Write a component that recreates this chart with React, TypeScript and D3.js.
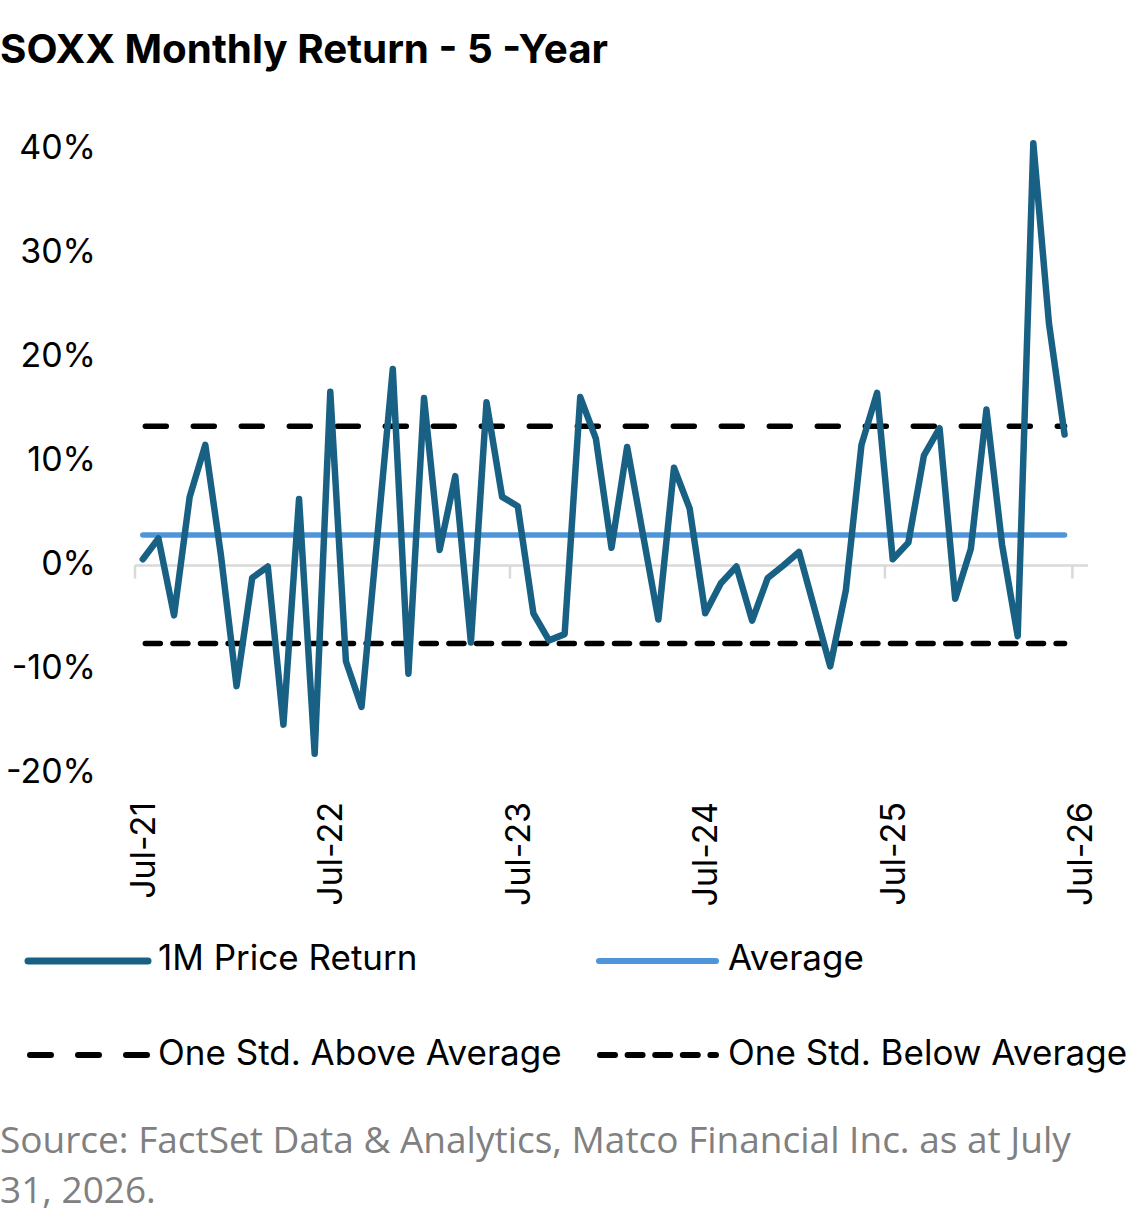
import * as d3 from 'd3'

// monthly returns in % (first point = Jul-21)
const RETURNS = [
  0.6, 2.6, -4.8, 6.6, 11.6, 1.0, -11.6, -1.2, -0.1, -15.3, 6.4, -18.1,
  16.7, -9.2, -13.6, 2.6, 18.9, -10.4, 16.1, 1.5, 8.6, -7.4, 15.7, 6.6,
  5.7, -4.6, -7.2, -6.6, 16.2, 12.2, 1.7, 11.4, 3.1, -5.2, 9.4, 5.5,
  -4.6, -1.7, -0.1, -5.3, -1.2, 0.0, 1.3, -4.2, -9.7, -2.4, 11.6, 16.6,
  0.6, 2.2, 10.6, 13.2, -3.2, 1.6, 15.0, 2.0, -6.8, 40.6, 23.3, 12.6,
]
const AVERAGE = 2.93
const ONE_STD_ABOVE = 13.4
const ONE_STD_BELOW = -7.5

const Y_TICKS = [-20, -10, 0, 10, 20, 30, 40]
const X_LABELS = ['Jul-21', 'Jul-22', 'Jul-23', 'Jul-24', 'Jul-25', 'Jul-26']
const X_TICK_INDEX = [0, 12, 24, 36, 48, 60]

const WIDTH = 1141
const HEIGHT = 1217
const FONT = 'Inter, "Noto Sans", sans-serif'

const COLOR_RETURN = '#186184'
const COLOR_AVG = '#4e95d9'
const LONG_DASH = '21 27'
const SHORT_DASH = '15 12.6'

export default function App() {
  const x = d3.scaleLinear().domain([-0.5, 60.5]).range([135, 1088])
  const y = d3.scaleLinear().domain([-20, 40]).range([773.5, 149.5])

  const line = d3.line<number>()
    .x((_, i) => x(i))
    .y(d => y(d))

  const x0 = x(0)
  const x1 = x(RETURNS.length - 1)

  return (
    <svg
      width={WIDTH}
      height={HEIGHT}
      style={{ position: 'absolute', left: 0, top: 0, background: '#fff' }}
      fontFamily={FONT}
    >
      <text x={0} y={63} fontSize={40} fontWeight={700} fill="#000" textLength={608} lengthAdjust="spacingAndGlyphs">
        SOXX Monthly Return - 5 -Year
      </text>

      {/* y axis labels */}
      {Y_TICKS.map(t => (
        <text
          key={t}
          x={96}
          y={y(t) - 2}
          dy="0.35em"
          textAnchor="end"
          fontSize={34}
          fill="#000"
        >
          {t}%
        </text>
      ))}

      {/* category axis */}
      <line x1={x(-0.5)} x2={x(60.5)} y1={y(0)} y2={y(0)} stroke="#d9d9d9" strokeWidth={2.5} />
      {X_TICK_INDEX.map(i => (
        <line
          key={i}
          x1={x(i - 0.5)}
          x2={x(i - 0.5)}
          y1={y(0)}
          y2={y(0) + 13}
          stroke="#d9d9d9"
          strokeWidth={2.5}
        />
      ))}
      {X_LABELS.map((lab, k) => (
        <text
          key={lab}
          transform={`translate(${x(X_TICK_INDEX[k] - 0.5) + 20},802) rotate(-90)`}
          textAnchor="end"
          fontSize={34}
          fill="#000"
        >
          {lab}
        </text>
      ))}

      {/* reference lines */}
      <line x1={x0} x2={x1} y1={y(AVERAGE)} y2={y(AVERAGE)} stroke={COLOR_AVG} strokeWidth={5.5} strokeLinecap="round" />
      <line
        x1={x0 + 2.5} x2={x1} y1={y(ONE_STD_ABOVE)} y2={y(ONE_STD_ABOVE)}
        stroke="#000" strokeWidth={5.5} strokeLinecap="round" strokeDasharray={LONG_DASH}
      />
      <line
        x1={x0 + 2.5} x2={x1} y1={y(ONE_STD_BELOW)} y2={y(ONE_STD_BELOW)}
        stroke="#000" strokeWidth={5.5} strokeLinecap="round" strokeDasharray={SHORT_DASH}
      />

      <path
        d={line(RETURNS) || ''}
        fill="none"
        stroke={COLOR_RETURN}
        strokeWidth={6.5}
        strokeLinejoin="round"
        strokeLinecap="round"
      />

      {/* legend */}
      <g fontSize={35} fill="#000">
        <line x1={28} x2={148} y1={961} y2={961} stroke={COLOR_RETURN} strokeWidth={7} strokeLinecap="round" />
        <text x={158} y={958} dy="0.35em">1M Price Return</text>
        <line x1={599} x2={716} y1={961} y2={961} stroke={COLOR_AVG} strokeWidth={6} strokeLinecap="round" />
        <text x={728} y={958} dy="0.35em">Average</text>

        <line x1={30} x2={148} y1={1055} y2={1055} stroke="#000" strokeWidth={6} strokeLinecap="round" strokeDasharray={LONG_DASH} />
        <text x={158} y={1053} dy="0.35em">One Std. Above Average</text>
        <line x1={600} x2={716} y1={1055} y2={1055} stroke="#000" strokeWidth={6} strokeLinecap="round" strokeDasharray={SHORT_DASH} />
        <text x={728} y={1053} dy="0.35em">One Std. Below Average</text>
      </g>

      {/* source */}
      <g fontFamily='"Open Sans", "Noto Sans", sans-serif' fontSize={37} fill="#808080">
        <text x={0} y={1153}>Source: FactSet Data &amp; Analytics, Matco Financial Inc. as at July</text>
        <text x={0} y={1203}>31, 2026.</text>
      </g>
    </svg>
  )
}
